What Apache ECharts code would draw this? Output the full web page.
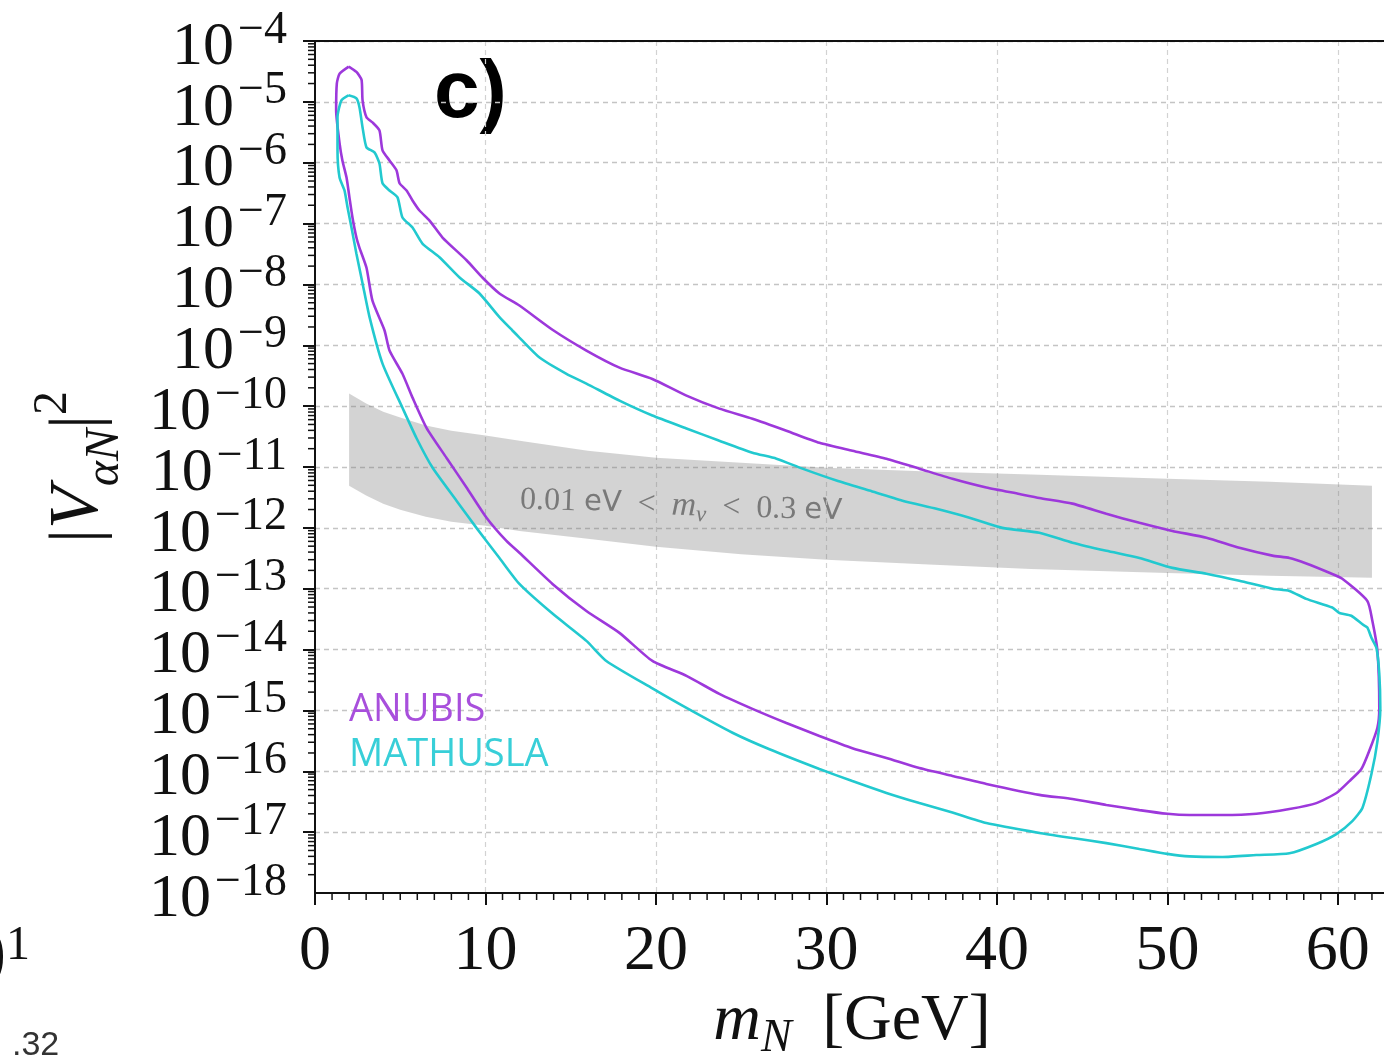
<!DOCTYPE html>
<html>
<head>
<meta charset="utf-8">
<script src="https://cdn.jsdelivr.net/npm/echarts@6/dist/echarts.min.js"></script>
<style>
html,body{margin:0;padding:0;background:#fff;}
#chart{width:1384px;height:1059px;}
</style>
</head>
<body>
<div id="chart"></div>
<script>
// ---- data ----
const xTicks = [0, 10, 20, 30, 40, 50, 60];
const yDecades = [-18, -17, -16, -15, -14, -13, -12, -11, -10, -9, -8, -7, -6, -5, -4];

// ANUBIS closed contour (m_N [GeV], |V|^2)
const anubisX = [1.98, 2.43, 2.73, 2.79, 3.02, 3.37, 3.78, 3.96, 4.37, 4.78, 4.96, 5.37, 5.72, 6.13, 6.72, 7.48, 8.89, 9.82, 10.82, 11.99, 13.93, 15.92, 17.86, 19.79, 21.79, 23.72, 25.66, 27.65, 29.59, 31.52, 33.52, 35.45, 37.39, 39.38, 41.32, 42.49, 44.43, 46.42, 48.36, 50.29, 52.29, 54.22, 56.16, 57.16, 58.15, 59.50, 60.26, 61.73, 62.02, 62.32, 62.43, 62.32, 61.85, 61.38, 60.68, 59.92, 58.74, 57.16, 55.22, 53.23, 51.29, 50.0, 48.36, 46.42, 44.43, 42.49, 39.38, 37.39, 35.45, 33.52, 31.52, 29.59, 27.65, 25.66, 23.72, 21.79, 19.79, 17.86, 15.92, 13.93, 11.99, 11.23, 10.06, 8.89, 7.71, 6.54, 5.72, 5.13, 4.37, 4.08, 3.37, 3.02, 2.61, 2.43, 2.20, 2.02, 1.85, 1.61, 1.44, 1.24, 1.28, 1.44, 1.98];
const anubisV = [3.8e-5, 3.1e-5, 2.3e-5, 1.06e-5, 5.6e-6, 4.6e-6, 3.4e-6, 1.6e-6, 1.09e-6, 7.5e-7, 4.6e-7, 3.5e-7, 2.4e-7, 1.64e-7, 1.12e-7, 5.9e-8, 2.5e-8, 1.3e-8, 7.1e-9, 4.5e-9, 1.8e-9, 8.2e-10, 4.3e-10, 2.8e-10, 1.49e-10, 9.1e-11, 6.2e-11, 3.95e-11, 2.5e-11, 1.85e-11, 1.37e-11, 9.4e-12, 6.4e-12, 4.6e-12, 3.6e-12, 3.1e-12, 2.5e-12, 1.7e-12, 1.21e-12, 8.9e-13, 6.9e-13, 4.7e-13, 3.5e-13, 3.2e-13, 2.6e-13, 1.83e-13, 1.46e-13, 6.3e-14, 3.0e-14, 9.5e-15, 1.1e-15, 5.2e-16, 2.2e-16, 1.09e-16, 6.9e-17, 4.4e-17, 3.0e-17, 2.4e-17, 2.0e-17, 1.91e-17, 1.91e-17, 2.0e-17, 2.3e-17, 2.8e-17, 3.5e-17, 4.1e-17, 6.2e-17, 8.4e-17, 1.13e-16, 1.66e-16, 2.4e-16, 3.8e-16, 6.2e-16, 1.06e-15, 1.87e-15, 3.7e-15, 6.5e-15, 1.88e-14, 4.3e-14, 1.2e-13, 3.9e-13, 6.1e-13, 1.47e-12, 4.6e-12, 1.42e-11, 4.4e-11, 1.38e-10, 3.4e-10, 8.2e-10, 1.75e-9, 5.4e-9, 1.88e-8, 4.0e-8, 5.9e-8, 1.25e-7, 2.7e-7, 5.7e-7, 1.08e-6, 2.1e-6, 7.2e-6, 2.0e-5, 2.9e-5, 3.8e-5];

// MATHUSLA closed contour
const mathX = [1.96, 2.43, 2.61, 2.79, 3.02, 3.49, 3.78, 3.96, 4.37, 4.84, 5.13, 5.72, 6.30, 7.30, 8.48, 9.65, 10.82, 11.58, 11.99, 13.17, 14.75, 15.92, 17.86, 19.79, 21.79, 23.72, 25.66, 27.07, 28.59, 30.59, 32.52, 34.46, 36.45, 38.39, 40.32, 42.49, 44.43, 46.42, 48.36, 50.29, 52.29, 54.22, 56.16, 57.16, 58.15, 59.67, 60.09, 60.79, 61.44, 61.73, 61.97, 62.26, 62.43, 62.49, 62.32, 61.97, 61.44, 60.85, 59.91, 58.74, 57.16, 55.22, 53.23, 51.29, 50.0, 48.36, 46.42, 44.43, 42.49, 39.38, 37.39, 35.45, 33.52, 31.52, 29.59, 26.66, 24.49, 21.79, 19.79, 17.09, 15.92, 13.93, 11.99, 10.82, 9.47, 8.30, 6.89, 5.95, 5.13, 3.96, 3.20, 2.79, 2.43, 2.14, 1.91, 1.73, 1.44, 1.32, 1.32, 1.55, 1.96];
const mathV = [1.28e-5, 1.14e-5, 8.1e-6, 3.8e-6, 1.79e-6, 1.48e-6, 9.7e-7, 4.6e-7, 3.5e-7, 2.7e-7, 1.26e-7, 8.6e-8, 4.7e-8, 2.8e-8, 1.3e-8, 7.1e-9, 2.9e-9, 1.75e-9, 1.34e-9, 6.3e-10, 3.4e-10, 2.35e-10, 1.23e-10, 7.0e-11, 4.3e-11, 2.7e-11, 1.72e-11, 1.37e-11, 9.4e-12, 6.0e-12, 4.1e-12, 2.8e-12, 2.06e-12, 1.47e-12, 1.0e-12, 8.3e-13, 5.7e-13, 4.2e-13, 3.2e-13, 2.2e-13, 1.76e-13, 1.35e-13, 1.0e-13, 9.2e-14, 6.8e-14, 4.9e-14, 4.0e-14, 3.6e-14, 2.6e-14, 2.3e-14, 1.56e-14, 1.07e-14, 4.0e-15, 1.1e-15, 3.1e-16, 9.0e-17, 2.5e-17, 1.52e-17, 9.3e-18, 6.4e-18, 4.5e-18, 4.2e-18, 3.9e-18, 4.0e-18, 4.4e-18, 5.3e-18, 6.6e-18, 8.0e-18, 9.7e-18, 1.41e-17, 2.1e-17, 3.0e-17, 4.4e-17, 6.9e-17, 1.09e-16, 2.3e-16, 4.3e-16, 1.1e-15, 2.3e-15, 6.5e-15, 1.39e-14, 3.9e-14, 1.2e-13, 3.2e-13, 1.0e-12, 2.8e-12, 9.8e-12, 3.0e-11, 9.4e-11, 5.0e-10, 2.9e-9, 1.04e-8, 3.2e-8, 8.6e-8, 1.84e-7, 3.5e-7, 5.7e-7, 1.6e-6, 5.6e-6, 1.06e-5, 1.28e-5];

// grey band 0.01 eV < m_nu < 0.3 eV
const bandX    = [2, 3, 4, 5, 6.5, 8, 10, 12, 16, 20, 25, 30, 36, 42, 50, 56, 62];
const bandHigh = [1.61e-10, 1.10e-10, 8.1e-11, 6.5e-11, 4.8e-11, 3.95e-11, 3.3e-11, 2.7e-11, 1.85e-11, 1.42e-11, 1.18e-11, 9.7e-12, 8.4e-12, 7.5e-12, 6.4e-12, 5.7e-12, 4.9e-12];
const bandLow  = [4.9e-12, 3.4e-12, 2.5e-12, 1.98e-12, 1.52e-12, 1.26e-12, 1.08e-12, 8.9e-13, 6.6e-13, 4.9e-13, 3.7e-13, 3.0e-13, 2.5e-13, 2.1e-13, 1.82e-13, 1.63e-13, 1.51e-13];

const seriesNames = ['ANUBIS', 'MATHUSLA'];
const seriesColors = ['#9d38db', '#22c9cf'];
const legendColors = ['#a84fdc', '#38cfd8'];

// ---- chart ----
const SERIF = '"Liberation Serif", "DejaVu Serif", serif';
const chart = echarts.init(document.getElementById('chart'), null, {renderer: 'canvas'});

const yMin = Math.pow(10, yDecades[0]);
const yMax = Math.pow(10, yDecades[yDecades.length - 1]);

// minor tick positions (log minor ticks on y, unit steps on x)
const yMinor = [];
for (let i = 0; i < yDecades.length - 1; i++) {
  for (let k = 2; k <= 9; k++) yMinor.push([0, k * Math.pow(10, yDecades[i])]);
}
const xMinor = [];
for (let t = 1; t <= 63; t++) if (t % 10 !== 0) xMinor.push([t, yMin]);

function tickSeries(data, dx, dy) {
  return {
    type: 'custom', coordinateSystem: 'cartesian2d', silent: true, clip: false, z: 10,
    encode: {x: 0, y: 1}, data: data,
    renderItem: (params, api) => {
      const c = api.coord([api.value(0), api.value(1)]);
      return {type: 'line', shape: {x1: c[0], y1: c[1], x2: c[0] + dx, y2: c[1] + dy},
        style: {stroke: '#111', lineWidth: 1.5}};
    }
  };
}

function powLabel(v) {
  const e = Math.round(Math.log10(v));
  return '{a|10}{b|' + (e < 0 ? '\u2212' : '') + Math.abs(e) + '}';
}
const yLabelRich = {
  a: {fontFamily: SERIF, fontSize: 62, lineHeight: 80, color: '#111'},
  b: {fontFamily: SERIF, fontSize: 46, lineHeight: 36, verticalAlign: 'top', padding: [0, 0, 0, 4], color: '#111'}
};

const option = {
  backgroundColor: '#fff',
  animation: false,
  grid: {left: 315, top: 41, right: -5, bottom: 166, show: false, containLabel: false, outerBoundsMode: 'none'},
  legend: {
    orient: 'vertical', left: 339, top: 685, icon: 'none', itemWidth: 0, itemHeight: 40, itemGap: 5,
    selectedMode: false,
    textStyle: {fontFamily: '"Open Sans", sans-serif', fontSize: 38, lineHeight: 40},
    data: seriesNames.map((n, i) => ({name: n, textStyle: {color: legendColors[i]}}))
  },
  xAxis: [{
    type: 'value', min: 0, max: 63, interval: 10,
    name: '{m|m}{n|N}{g| [GeV]}', nameLocation: 'middle', nameGap: 84,
    nameTextStyle: {
      rich: {
        m: {fontFamily: SERIF, fontStyle: 'italic', fontSize: 66, lineHeight: 80, color: '#111'},
        n: {fontFamily: SERIF, fontStyle: 'italic', fontSize: 46, lineHeight: 46, verticalAlign: 'bottom', color: '#111', padding: [0, 14, 0, 0]},
        g: {fontFamily: SERIF, fontSize: 66, lineHeight: 80, color: '#111'}
      }
    },
    axisLine: {show: true, onZero: false, lineStyle: {color: '#111', width: 2}},
    axisTick: {show: true, length: 12, lineStyle: {color: '#111', width: 2}},
    axisLabel: {fontFamily: SERIF, fontSize: 64, lineHeight: 64, color: '#111', margin: 27, showMaxLabel: false,
      formatter: v => (xTicks.indexOf(v) >= 0 ? String(v) : '')},
    splitLine: {show: true, showMinLine: false, lineStyle: {color: '#d2d2d2', width: 1.2, type: [5, 4]}}
  }, {
    type: 'value', position: 'top', min: 0, max: 63,
    axisLine: {show: true, onZero: false, lineStyle: {color: '#111', width: 2}},
    axisTick: {show: false}, axisLabel: {show: false}, splitLine: {show: false}
  }],
  yAxis: [{
    type: 'log', logBase: 10, min: yMin, max: yMax, interval: 1,
    name: '{bar||}{v|V}{s|αN}{bar||}{p|2}', nameLocation: 'middle', nameRotate: 90, nameGap: 186,
    nameTextStyle: {
      rich: {
        bar: {fontFamily: SERIF, fontSize: 70, lineHeight: 100, color: '#111'},
        v: {fontFamily: SERIF, fontStyle: 'italic', fontSize: 70, lineHeight: 100, color: '#111'},
        s: {fontFamily: SERIF, fontStyle: 'italic', fontSize: 48, lineHeight: 61, verticalAlign: 'bottom', color: '#111'},
        p: {fontFamily: SERIF, fontSize: 48, lineHeight: 65, verticalAlign: 'top', color: '#111'}
      }
    },
    axisLine: {show: true, onZero: false, lineStyle: {color: '#111', width: 2}},
    axisTick: {show: true, length: 12, lineStyle: {color: '#111', width: 2}},
    axisLabel: {margin: 28, padding: [13, 0, 0, 0], showMinLabel: false, showMaxLabel: true,
      formatter: powLabel, rich: yLabelRich},
    splitLine: {show: true, showMinLine: false, showMaxLine: false, lineStyle: {color: '#c4c4c4', width: 1.4, type: [5, 4]}}
  }, {
    // companion axis carrying only the lowest decade label
    type: 'log', logBase: 10, min: yMin, max: yMax, interval: 14, position: 'left',
    axisLine: {show: false}, axisTick: {show: false}, splitLine: {show: false},
    axisLabel: {margin: 28, padding: [13, 0, 0, 0], showMinLabel: true, showMaxLabel: false,
      formatter: v => (Math.abs(Math.log10(v) - yDecades[0]) < 0.01 ? powLabel(v) : ''), rich: yLabelRich}
  }],
  series: [
    {
      type: 'custom', coordinateSystem: 'cartesian2d', silent: true, z: 1,
      data: bandX.map((x, i) => [x, bandLow[i], bandHigh[i]]),
      encode: {x: 0, y: [1, 2]},
      renderItem: (params, api) => {
        if (params.dataIndex !== 0) return null;
        const top = bandX.map((x, i) => api.coord([x, bandHigh[i]]));
        const bot = bandX.map((x, i) => api.coord([x, bandLow[i]])).reverse();
        return {type: 'polygon', shape: {points: top.concat(bot)}, style: {fill: 'rgba(120,120,120,0.33)'}};
      }
    },
    {
      name: seriesNames[0], type: 'line', showSymbol: false, symbol: 'none', z: 3, smooth: 0.2,
      lineStyle: {color: seriesColors[0], width: 2.6}, itemStyle: {color: seriesColors[0]},
      data: anubisX.map((x, i) => [x, anubisV[i]])
    },
    {
      name: seriesNames[1], type: 'line', showSymbol: false, symbol: 'none', z: 4, smooth: 0.2,
      lineStyle: {color: seriesColors[1], width: 2.6}, itemStyle: {color: seriesColors[1]},
      data: mathX.map((x, i) => [x, mathV[i]])
    },
    tickSeries(yMinor, -7, 0),
    tickSeries(xMinor, 0, 7)
  ],
  graphic: [
    {type: 'text', x: 434, y: 94, style: {text: 'c)', fontFamily: '"Liberation Sans", Arial, sans-serif', fontWeight: 'bold', fontSize: 82, fill: '#000', verticalAlign: 'middle', align: 'left'}},
    {type: 'text', x: 520, y: 500, rotation: -0.036, silent: true,
      style: {
        text: '{s|0.01 }{e|eV}{s|  <  }{i|m}{u|ν}{s|  <  0.3 }{e|eV}',
        verticalAlign: 'middle', align: 'left',
        rich: {
          s: {fontFamily: SERIF, fontSize: 32, lineHeight: 40, fill: '#7a7a7a'},
          e: {fontFamily: '"DejaVu Sans", sans-serif', fontSize: 29, lineHeight: 40, fill: '#7a7a7a'},
          i: {fontFamily: SERIF, fontStyle: 'italic', fontSize: 34, lineHeight: 40, fill: '#7a7a7a'},
          u: {fontFamily: SERIF, fontStyle: 'italic', fontSize: 23, lineHeight: 28, verticalAlign: 'bottom', fill: '#7a7a7a'}
        }
      }},
    {type: 'text', x: 30, y: 962, silent: true,
      style: {
        text: '{a|10}{b|1}', align: 'right', verticalAlign: 'middle',
        rich: {
          a: {fontFamily: SERIF, fontSize: 78, lineHeight: 80, fill: '#111'},
          b: {fontFamily: SERIF, fontSize: 48, lineHeight: 50, verticalAlign: 'top', fill: '#111'}
        }
      }},
    {type: 'text', x: 12, y: 1046, silent: true,
      style: {text: '.32', fontFamily: '"Liberation Sans", Arial, sans-serif', fontSize: 34, fill: '#333', align: 'left', verticalAlign: 'middle'}}
  ]
};
chart.setOption(option);
</script>
</body>
</html>
